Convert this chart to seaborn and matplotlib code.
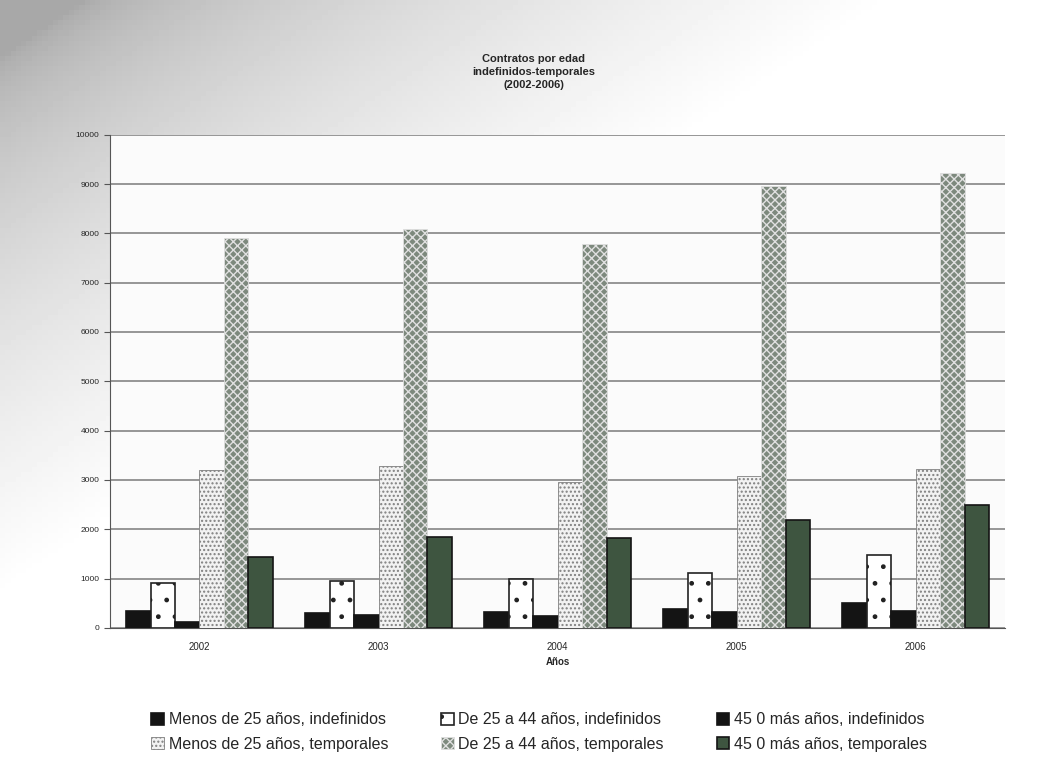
import numpy as np
import pandas as pd
import matplotlib
matplotlib.use("Agg")
import matplotlib.pyplot as plt
import seaborn as sns

years = ["2002", "2003", "2004", "2005", "2006"]
series = [
    "Menos de 25 años, indefinidos",
    "De 25 a 44 años, indefinidos",
    "45 0 más años, indefinidos",
    "Menos de 25 años, temporales",
    "De 25 a 44 años, temporales",
    "45 0 más años, temporales",
]
menos25_indef = [350, 300, 320, 380, 500]
de25_44_indef = [900, 950, 990, 1110, 1480]
mas45_indef = [120, 260, 240, 320, 340]
menos25_temp = [3200, 3290, 2960, 3080, 3220]
de25_44_temp = [7900, 8090, 7790, 8960, 9230]
mas45_temp = [1440, 1850, 1830, 2190, 2490]

values = [menos25_indef, de25_44_indef, mas45_indef,
          menos25_temp, de25_44_temp, mas45_temp]

rows = []
for name, vals in zip(series, values):
    for y, v in zip(years, vals):
        rows.append({"Años": y, "serie": name, "valor": v})
df = pd.DataFrame(rows)

faces = ["#141414", "#ffffff", "#141414", "#f2f2f2", "#7d897d", "#3e5540"]
hatches = [None, ".", None, "....", "xxxx", None]
hatch_cols = ["#141414", "#222222", "#141414", "#808080", "#e0e0e0", "#3e5540"]

sns.set_style("white")
plt.rcParams["font.family"] = ["Liberation Sans", "DejaVu Sans"]
plt.rcParams["hatch.linewidth"] = 1.0

fig = plt.figure(figsize=(10.57, 7.61), dpi=100)

# scanned-paper background: grey in the top-left corner fading to white
bg = fig.add_axes([0, 0, 1, 1], zorder=-10)
xx, yy = np.meshgrid(np.linspace(0, 1, 200), np.linspace(0, 1, 150))
shade = 0.66 + 0.34 * np.clip(1.3 * xx + 1.4 * yy - 0.1, 0, 1) ** 0.6
bg.imshow(shade, cmap="gray", vmin=0, vmax=1, aspect="auto",
          extent=[0, 1, 0, 1], origin="upper")
bg.axis("off")

ax = fig.add_axes([0.104, 0.175, 0.847, 0.648])
ax.set_facecolor("#fbfbfb")
sns.barplot(data=df, x="Años", y="valor", hue="serie", hue_order=series,
            palette=faces, width=0.82, gap=0, saturation=1, ax=ax, legend=False,
            zorder=3)

for i, cont in enumerate(ax.containers):
    for p in cont:
        p.set_facecolor(faces[i])
        p.set_edgecolor(hatch_cols[i] if hatches[i] else "#141414")
        p.set_linewidth(1.2 if hatches[i] is None or i == 1 else 0.6)
        if hatches[i]:
            p.set_hatch(hatches[i])

ax.set_ylim(0, 10000)
ax.set_yticks(range(0, 10001, 1000))
ax.set_yticklabels([str(v) for v in range(0, 10001, 1000)], fontsize=6)
ax.tick_params(axis="x", labelsize=7, length=0, pad=10)
ax.tick_params(axis="y", length=4, left=True, color="#555555")
ax.grid(axis="y", color="#7a7a7a", linewidth=1.1, zorder=0)
for s in ["top", "right"]:
    ax.spines[s].set_visible(False)
ax.spines["left"].set_color("#555555")
ax.spines["bottom"].set_color("#555555")
ax.set_xlabel("Años", fontsize=7, fontweight="bold", labelpad=4)
ax.set_ylabel("")

fig.text(0.505, 0.905, "Contratos por edad\nindefinidos-temporales\n(2002-2006)",
         ha="center", va="center", fontsize=8, fontweight="bold", linespacing=1.4)

# legend reads row-wise like the original (matplotlib fills columns first)
order = [0, 3, 1, 4, 2, 5]
handles = [ax.containers[i][0] for i in order]
labels = [series[i] for i in order]
fig.legend(handles, labels, loc="center", bbox_to_anchor=(0.51, 0.038), ncol=3,
           frameon=False, fontsize=11.5, handlelength=0.8, handleheight=0.8,
           handletextpad=0.3, columnspacing=3.3, labelspacing=0.6)

fig.savefig("out.png", dpi=100, facecolor=fig.get_facecolor())
